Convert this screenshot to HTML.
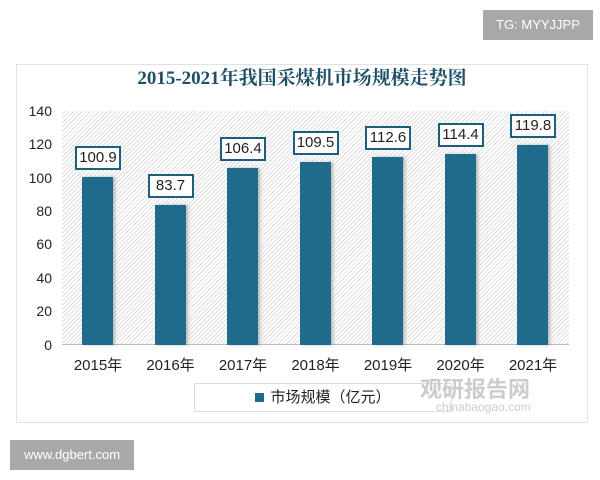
<!DOCTYPE html>
<html><head><meta charset="utf-8"><style>
body{margin:0;width:600px;height:480px;background:#fff;position:relative;overflow:hidden;font-family:"Liberation Sans","Noto Sans CJK SC",sans-serif}
.a{position:absolute}
</style></head><body>
<div class="a" style="left:483px;top:10px;width:110px;height:30px;background:#a8a8a8;color:#fff;font-size:13px;line-height:30px;text-align:center">TG: MYYJJPP</div>
<div class="a" style="left:16px;top:64px;width:572px;height:359px;border:1px solid #e2e2e2;box-sizing:border-box"></div>
<div class="a" style="left:16px;top:65px;width:572px;text-align:center;font-family:'Liberation Serif','Noto Serif CJK SC',serif;font-weight:bold;font-size:19px;color:#1d4f66;line-height:28px">2015-2021年我国采煤机市场规模走势图</div>
<div class="a" style="left:62px;top:111px;width:507px;height:234px;background:repeating-linear-gradient(135deg,#fff 0 2px,#dcdcdc 2px 3px)"></div>
<div class="a" style="left:62px;top:344px;width:507px;height:1px;background:#bbb"></div>
<svg class="a" style="left:0;top:0" width="600" height="480">
<g font-family="Liberation Sans,sans-serif" font-size="14" fill="#222" text-anchor="end">
<text x="52" y="116">140</text><text x="52" y="149">120</text><text x="52" y="183">100</text><text x="52" y="216">80</text><text x="52" y="249">60</text><text x="52" y="283">40</text><text x="52" y="316">20</text><text x="52" y="350">0</text>
</g>
</svg>
<div id="c"></div>
<div class="a" style="left:194px;top:383px;width:258px;height:29px;border:1px solid #ddd;box-sizing:border-box;text-align:center;font-size:15px;line-height:27px;color:#222"><span style="display:inline-block;width:9px;height:9px;background:#1f6b8c;margin-right:6px"></span>市场规模（亿元）</div>
<div class="a" style="left:420px;top:372px;font-size:22px;font-weight:bold;color:#ccc">观研报告网</div>
<div class="a" style="left:436px;top:400px;font-size:12px;color:#ccc">chinabaogao.com</div>
<div class="a" style="left:10px;top:440px;width:124px;height:30px;background:#a8a8a8;color:#fff;font-size:13px;line-height:30px;text-align:center">www.dgbert.com</div>
<script>
var v=[100.9,83.7,106.4,109.5,112.6,114.4,119.8],h='';
v.forEach(function(d,i){var cx=98+i*72.5,t=345-d*1.667;
h+='<div class="a" style="left:'+(cx-16)+'px;top:'+t+'px;width:31px;height:'+(345-t)+'px;background:#1f6b8c;box-shadow:2px 0 3px rgba(0,0,0,.25)"></div>';
h+='<div class="a" style="left:'+(cx-23)+'px;top:'+(t-31)+'px;width:46px;height:24px;border:2px solid #1d5f7a;box-sizing:border-box;background:#fff;font-size:15px;line-height:20px;text-align:center;color:#222">'+d.toFixed(1)+'</div>';
h+='<div class="a" style="left:'+(cx-35)+'px;top:354px;width:70px;text-align:center;font-size:15px;color:#222">'+(2015+i)+'年</div>';});
document.getElementById('c').innerHTML=h;
</script>
</body></html>
